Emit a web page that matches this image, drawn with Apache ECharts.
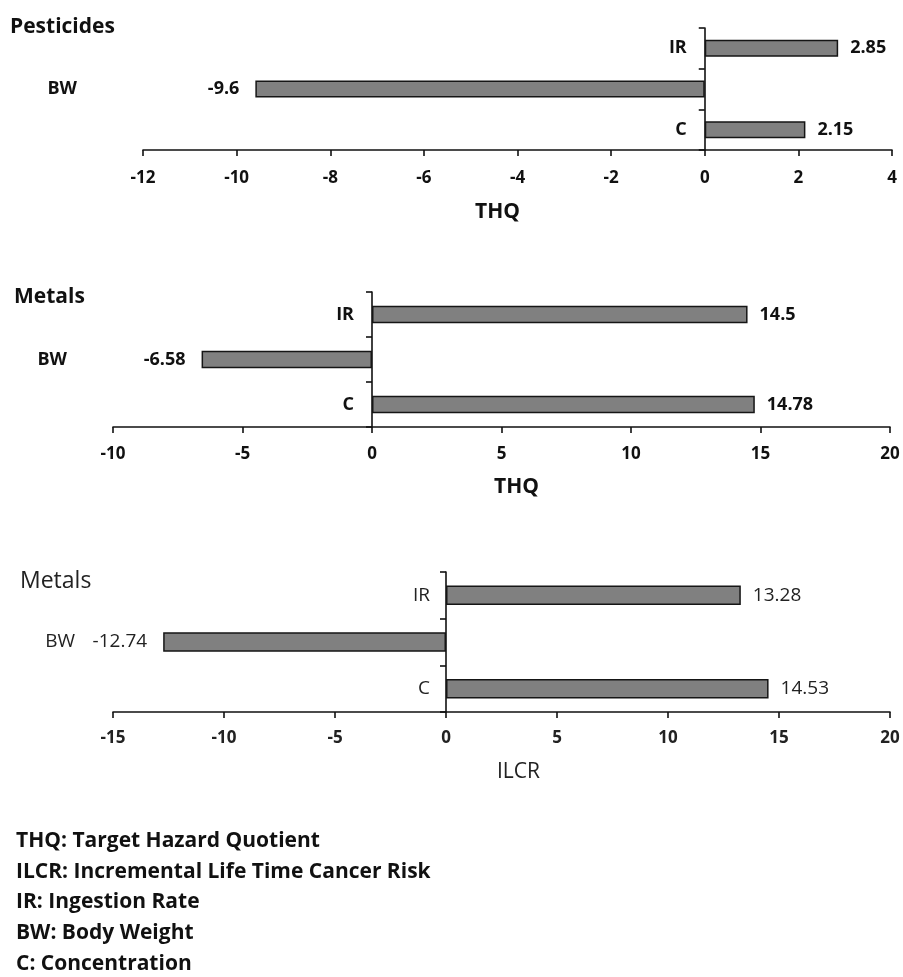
<!DOCTYPE html>
<html>
<head>
<meta charset="utf-8">
<script src="https://cdn.jsdelivr.net/npm/echarts@6/dist/echarts.min.js"></script>
<style>
  html, body { margin: 0; padding: 0; background: #fff; }
  #chart { width: 903px; height: 977px; }
</style>
</head>
<body>
<div id="chart"></div>
<script>
// ---- data ----
const categories = ['C', 'BW', 'IR'];          // bottom to top
const pesticidesTHQ = [2.15, -9.6, 2.85];
const metalsTHQ = [14.78, -6.58, 14.5];
const metalsILCR = [14.53, -12.74, 13.28];

const panelTitles = ['Pesticides', 'Metals', 'Metals'];
const axisNames = ['THQ', 'THQ', 'ILCR'];
const axisMin = [-12, -10, -15];
const axisMax = [4, 20, 20];
const axisStep = [2, 5, 5];

const footnotes = [
  'THQ: Target Hazard Quotient',
  'ILCR: Incremental Life Time Cancer Risk',
  'IR: Ingestion Rate',
  'BW: Body Weight',
  'C: Concentration'
];

// ---- layout / style (not data) ----
const FONT = 'Open Sans';
const layouts = [
  { left: 143, right: 11, top: 28, height: 122, barWidth: 17, bwMargin: 66, catMargin: 18,
    nameGap: 52, tickMargin: 20, namePad: [0, 40, 0, 0], titleLeft: 10, titleTop: 14, titleSize: 21,
    color: '#111', weight: 'bold', catWeight: 'bold', tickWeight: 'bold', valWeight: 'bold',
    catSize: 18, valSize: 18, tickSize: 17 },
  { left: 113, right: 13, top: 292, height: 135, barWidth: 17.5, bwMargin: 46, catMargin: 18,
    nameGap: 50, tickMargin: 19, namePad: [0, 0, 0, 30], titleLeft: 14, titleTop: 284, titleSize: 21,
    color: '#111', weight: 'bold', catWeight: 'bold', tickWeight: 'bold', valWeight: 'bold',
    catSize: 18, valSize: 18, tickSize: 17 },
  { left: 113, right: 13, top: 572, height: 140, barWidth: 19.5, bwMargin: 38, catMargin: 16,
    nameGap: 50, tickMargin: 18, namePad: [0, 0, 0, 34], titleLeft: 20, titleTop: 568, titleSize: 23,
    color: '#222', weight: 'normal', catWeight: 'normal', tickWeight: 'bold', valWeight: 'normal',
    catSize: 19, valSize: 19, tickSize: 17 }
];
const seriesData = [pesticidesTHQ, metalsTHQ, metalsILCR];

const grid = [], xAxis = [], yAxis = [], series = [], title = [];
layouts.forEach((L, i) => {
  grid.push({ left: L.left, right: L.right, top: L.top, height: L.height, containLabel: false });
  title.push({
    text: panelTitles[i], left: L.titleLeft, top: L.titleTop, padding: 0,
    textStyle: { fontFamily: FONT, fontSize: L.titleSize, fontWeight: L.weight, color: L.color, lineHeight: 26 }
  });
  xAxis.push({
    type: 'value', gridIndex: i, min: axisMin[i], max: axisMax[i], interval: axisStep[i],
    name: axisNames[i], nameLocation: 'middle', nameGap: L.nameGap,
    nameTextStyle: { fontFamily: FONT, fontSize: 21, fontWeight: L.weight, color: L.color, padding: L.namePad },
    axisLine: { show: true, onZero: false, lineStyle: { color: '#111', width: 1.6 } },
    axisTick: { show: true, length: 6, lineStyle: { color: '#111', width: 1.6 } },
    axisLabel: { fontFamily: FONT, fontSize: L.tickSize, fontWeight: L.tickWeight, color: L.color, margin: L.tickMargin },
    splitLine: { show: false }
  });
  // main category axis: line + ticks sitting on zero
  yAxis.push({
    type: 'category', gridIndex: i, data: categories,
    axisLine: { show: true, onZero: true, lineStyle: { color: '#111', width: 1.6 } },
    axisTick: { show: true, length: 6, lineStyle: { color: '#111', width: 1.6 } },
    axisLabel: { show: false },
    splitLine: { show: false }
  });
  // label axis at grid left (label of the negative bar)
  yAxis.push({
    type: 'category', gridIndex: i, data: categories, position: 'left',
    axisLine: { show: false, onZero: false },
    axisTick: { show: false },
    axisLabel: {
      fontFamily: FONT, fontSize: L.catSize, fontWeight: L.catWeight, color: L.color, margin: L.bwMargin,
      formatter: v => (v === 'BW' ? v : '')
    },
    splitLine: { show: false }
  });
  // label axis moved to zero of the value axis (set after first layout)
  yAxis.push({
    type: 'category', gridIndex: i, data: categories, position: 'left', offset: 0,
    axisLine: { show: false, onZero: false },
    axisTick: { show: false },
    axisLabel: {
      fontFamily: FONT, fontSize: L.catSize, fontWeight: L.catWeight, color: L.color, margin: L.catMargin,
      formatter: v => (v === 'BW' ? '' : v)
    },
    splitLine: { show: false }
  });
  series.push({
    type: 'bar', xAxisIndex: i, yAxisIndex: i * 3, barWidth: L.barWidth,
    itemStyle: { color: '#808080', borderColor: '#151515', borderWidth: 1.5 },
    label: {
      show: true, fontFamily: FONT, fontSize: L.valSize, fontWeight: L.valWeight, color: L.color
    },
    data: seriesData[i].map(v => ({
      value: v,
      label: { position: v < 0 ? 'left' : 'right', distance: v < 0 ? 16 : 12 }
    })),
    silent: true, animation: false
  });
});

const chart = echarts.init(document.getElementById('chart'), null, { renderer: 'canvas' });
chart.setOption({
  backgroundColor: '#ffffff',
  animation: false,
  title, grid, xAxis, yAxis, series,
  graphic: [{
    type: 'text', left: 16, top: 826,
    style: {
      text: footnotes.join('\n'),
      font: 'bold 21px "Open Sans"',
      fill: '#111',
      lineHeight: 30.6
    }
  }]
});

// move the IR / C label axes onto the zero line of each value axis
const newY = yAxis.map(a => ({}));
layouts.forEach((L, i) => {
  const zeroX = chart.convertToPixel({ xAxisIndex: i }, 0);
  newY[i * 3 + 2] = { offset: -(zeroX - L.left) };
});
chart.setOption({ yAxis: newY });
</script>
</body>
</html>
